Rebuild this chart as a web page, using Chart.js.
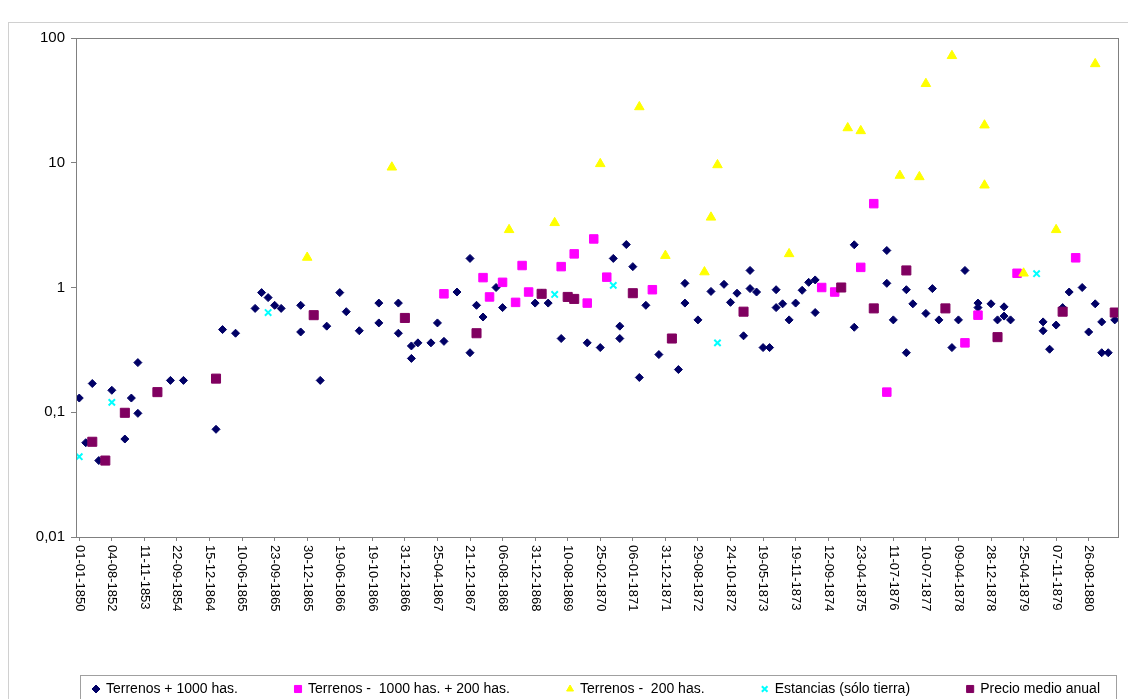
<!DOCTYPE html>
<html>
<head>
<meta charset="utf-8">
<script src="https://cdn.jsdelivr.net/npm/chart.js@4.4.1/dist/chart.umd.min.js"></script>
<style>
  body { margin: 0; background: #fff; }
  #wrap { width: 1128px; height: 699px; position: relative; }
</style>
</head>
<body>
<div id="wrap"><canvas id="myChart"></canvas></div>
<script>
// Fechas que se muestran en el eje (una cada 5 posiciones)
const tickLabels = [
    '01-01-1850', '04-08-1852', '11-11-1853', '22-09-1854', '15-12-1864', '10-06-1865',
    '23-09-1865', '30-12-1865', '19-06-1866', '19-10-1866', '31-12-1866', '25-04-1867',
    '21-12-1867', '06-08-1868', '31-12-1868', '10-08-1869', '25-02-1870', '06-01-1871',
    '31-12-1871', '29-08-1872', '24-10-1872', '19-05-1873', '19-11-1873', '12-09-1874',
    '23-04-1875', '11-07-1876', '10-07-1877', '09-04-1878', '28-12-1878', '25-04-1879',
    '07-11-1879', '26-08-1880'
];
const labelStep = 5;
const nCategories = 160;

const yTicks = [0.01, 0.1, 1, 10, 100];
const yTickLabels = ['0,01', '0,1', '1', '10', '100'];

// [posición en el eje, valor]
const terrenosMas1000 = [
    [0, 0.13], [1, 0.057], [2, 0.17], [3, 0.041], [5, 0.15], [7, 0.061], [8, 0.13], [9, 0.25], [9, 0.098],
    [14, 0.18], [16, 0.18], [21, 0.073], [22, 0.46], [24, 0.43], [27, 0.68], [28, 0.91], [29, 0.83],
    [30, 0.72], [31, 0.68], [34, 0.44], [34, 0.72], [37, 0.18], [38, 0.49], [40, 0.91], [41, 0.64],
    [43, 0.45], [46, 0.52], [46, 0.75], [49, 0.75], [49, 0.43], [51, 0.34], [51, 0.27], [52, 0.36],
    [54, 0.36], [55, 0.52], [56, 0.37], [58, 0.92], [60, 0.30], [60, 1.71], [61, 0.72], [62, 0.58],
    [64, 1.0], [65, 0.69], [70, 0.75], [71, 0.90], [72, 0.75], [74, 0.39], [78, 0.36], [80, 0.33],
    [82, 1.71], [83, 0.39], [83, 0.49], [84, 2.21], [85, 1.47], [86, 0.19], [87, 0.72], [89, 0.29],
    [92, 0.22], [93, 0.75], [93, 1.08], [95, 0.55], [97, 0.93], [99, 1.06], [100, 0.76], [101, 0.90],
    [102, 0.41], [103, 1.37], [103, 0.98], [104, 0.92], [105, 0.33], [106, 0.33], [107, 0.69], [107, 0.96],
    [108, 0.74], [109, 0.55], [110, 0.75], [111, 0.95], [112, 1.1], [113, 1.15], [113, 0.63], [119, 2.2],
    [119, 0.48], [124, 1.98], [124, 1.08], [125, 0.55], [127, 0.30], [127, 0.96], [128, 0.74], [130, 0.62],
    [131, 0.98], [132, 0.55], [134, 0.33], [135, 0.55], [136, 1.37], [138, 0.75], [138, 0.69], [140, 0.74],
    [141, 0.55], [142, 0.59], [142, 0.70], [143, 0.55], [148, 0.53], [148, 0.45], [149, 0.32], [150, 0.50],
    [151, 0.69], [152, 0.92], [154, 1.0], [155, 0.44], [156, 0.74], [157, 0.30], [157, 0.53], [158, 0.30],
    [159, 0.55]
];
const terrenos1000a200 = [
    [56, 0.89], [62, 1.2], [63, 0.84], [65, 1.1], [67, 0.76], [68, 1.5], [69, 0.92], [74, 1.47],
    [76, 1.86], [78, 0.75], [79, 2.45], [81, 1.21], [88, 0.96], [114, 1.0], [116, 0.92], [120, 1.45],
    [122, 4.7], [124, 0.145], [136, 0.36], [138, 0.6], [144, 1.3], [153, 1.73]
];
const terrenosMenos200 = [
    [35, 1.74], [48, 9.2], [66, 2.9], [73, 3.3], [80, 9.8], [86, 28], [90, 1.8], [96, 1.33],
    [97, 3.65], [98, 9.6], [109, 1.86], [118, 19], [120, 18], [126, 7.9], [129, 7.7], [130, 43],
    [134, 72], [139, 20], [139, 6.6], [145, 1.3], [150, 2.9], [156, 62]
];
const estancias = [
    [0, 0.044], [5, 0.12], [29, 0.63], [73, 0.88], [82, 1.04], [98, 0.36], [147, 1.29]
];
const precioMedio = [
    [2, 0.058], [4, 0.041], [7, 0.099], [12, 0.145], [21, 0.186], [36, 0.6], [50, 0.57], [61, 0.43],
    [71, 0.89], [75, 0.84], [76, 0.81], [85, 0.9], [91, 0.39], [102, 0.64], [117, 1.0], [122, 0.68],
    [127, 1.37], [133, 0.68], [141, 0.4], [151, 0.64], [159, 0.63]
];

const toPoints = arr => arr.map(p => ({ x: p[0], y: p[1] }));
const fontFamily = '"Liberation Sans", Arial, sans-serif';

function serie(label, data, color, style, radius, order) {
    return {
        label: label,
        data: toPoints(data),
        pointStyle: style,
        pointRadius: radius,
        pointHoverRadius: radius,
        backgroundColor: color,
        borderColor: color,
        borderWidth: style === 'crossRot' ? 2 : 1,
        showLine: false,
        order: order
    };
}

// marco del gráfico, del área de trazado, fechas giradas y leyenda con recuadro
const framePlugin = {
    id: 'frame',
    beforeDraw(chart) {
        const ctx = chart.ctx;
        ctx.save();
        ctx.fillStyle = '#fff';
        ctx.fillRect(0, 0, chart.width, chart.height);
        ctx.strokeStyle = '#d0d0d0';
        ctx.lineWidth = 1;
        ctx.strokeRect(8.5, 22.5, chart.width - 8, chart.height);
        ctx.restore();
    },
    afterDraw(chart) {
        const ctx = chart.ctx;
        const a = chart.chartArea;
        const x = chart.scales.x;
        ctx.save();
        ctx.strokeStyle = '#808080';
        ctx.lineWidth = 1;
        ctx.strokeRect(Math.round(a.left) + 0.5, Math.round(a.top) + 0.5,
            Math.round(a.right - a.left), Math.round(a.bottom - a.top));

        // fechas giradas 90 grados
        ctx.fillStyle = '#000';
        ctx.font = '13px ' + fontFamily;
        ctx.textBaseline = 'middle';
        ctx.textAlign = 'left';
        tickLabels.forEach((t, i) => {
            const px = x.getPixelForValue(i * labelStep);
            ctx.save();
            ctx.translate(px, a.bottom + 8);
            ctx.rotate(Math.PI / 2);
            ctx.fillText(t, 0, 0);
            ctx.restore();
        });

        // leyenda
        const sets = chart.data.datasets;
        const startX = 92, endX = 1100, legY = 689;
        ctx.font = '14px ' + fontFamily;
        const widths = sets.map(d => 14 + ctx.measureText(d.label).width);
        const gap = (endX - startX - widths.reduce((s, w) => s + w, 0)) / (sets.length - 1);
        ctx.strokeStyle = '#a0a0a0';
        ctx.strokeRect(80.5, 675.5, 1036, 40);
        let cx = startX;
        sets.forEach((d, i) => {
            ctx.fillStyle = d.backgroundColor;
            ctx.strokeStyle = d.borderColor;
            ctx.lineWidth = d.borderWidth;
            Chart.helpers.drawPoint(ctx, { pointStyle: d.pointStyle, radius: d.pointStyle === 'rect' ? 5 : 4, rotation: 0, borderWidth: d.borderWidth }, cx + 4, legY);
            ctx.fillStyle = '#000';
            ctx.fillText(d.label, cx + 14, legY);
            cx += widths[i] + gap;
        });
        ctx.restore();
    }
};

const config = {
    type: 'scatter',
    data: {
        datasets: [
            serie('Terrenos + 1000 has.', terrenosMas1000, '#000066', 'rectRot', 4, 5),
            serie('Terrenos -  1000 has. + 200 has.', terrenos1000a200, '#FF00FF', 'rect', 6, 4),
            serie('Terrenos -  200 has.', terrenosMenos200, '#FFFF00', 'triangle', 5.5, 3),
            serie('Estancias (sólo tierra)', estancias, '#00FFFF', 'crossRot', 4.5, 2),
            serie('Precio medio anual', precioMedio, '#800060', 'rect', 6.4, 1)
        ]
    },
    options: {
        responsive: true,
        maintainAspectRatio: false,
        animation: false,
        layout: { padding: { left: 10, right: 10, top: 38, bottom: 0 } },
        scales: {
            x: {
                type: 'linear',
                min: -0.5,
                max: nCategories - 0.5,
                afterBuildTicks: axis => {
                    axis.ticks = tickLabels.map((t, i) => ({ value: i * labelStep }));
                },
                afterFit: s => { s.height = 162; },
                ticks: { display: false },
                grid: { drawOnChartArea: false, drawTicks: true, tickLength: 4, color: '#808080' },
                border: { display: true, color: '#808080' }
            },
            y: {
                type: 'logarithmic',
                min: 0.01,
                max: 100,
                afterBuildTicks: axis => {
                    axis.ticks = yTicks.map(v => ({ value: v }));
                },
                afterFit: s => { s.width = 66; },
                ticks: {
                    callback: (value, index) => yTickLabels[index],
                    color: '#000',
                    padding: 6,
                    font: { family: fontFamily, size: 15 }
                },
                grid: { drawOnChartArea: false, drawTicks: true, tickLength: 5, color: '#808080' },
                border: { display: true, color: '#808080' }
            }
        },
        plugins: {
            legend: { display: false },
            tooltip: { enabled: false }
        }
    },
    plugins: [framePlugin]
};

const ctx = document.getElementById('myChart').getContext('2d');
new Chart(ctx, config);
</script>
</body>
</html>
